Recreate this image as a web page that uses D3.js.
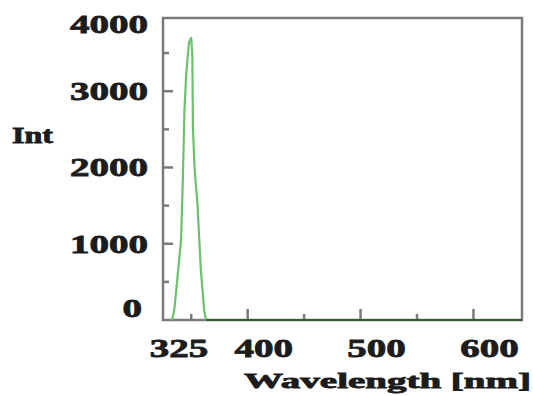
<!DOCTYPE html>
<html>
<head>
<meta charset="utf-8">
<script src="https://cdn.jsdelivr.net/npm/d3@7"></script>
<style>
  body { margin: 0; background: #fff; }
  svg { display: block; }
</style>
</head>
<body>
<svg id="chart"></svg>
<script>
// spectrum
const wavelength = [333, 335, 341, 342.5, 344, 345.5, 348, 350, 351, 351.5, 353, 355.5, 358.5, 361.5, 363, 400, 450, 500, 550, 600, 643];
const intensity  = [0, 130, 1050, 1800, 2750, 3210, 3640, 3700, 3470, 2530, 1970, 1530, 660, 130, 0, 0, 0, 0, 0, 0, 0];

const xTickValues = [350, 400, 450, 500, 550, 600];
const xMajor = [400, 500, 600];
const xLabelValues = [325, 400, 500, 600];
const xLabels = ["325", "400", "500", "600"];
const yTickValues = [500, 1000, 1500, 2000, 2500, 3000, 3500];
const yMajor = [1000, 2000, 3000];
const yLabelValues = [0, 1000, 2000, 3000, 4000];
const yLabels = ["0", "1000", "2000", "3000", "4000"];

const width = 533, height = 396;
const plotLeft = 163, plotRight = 522, plotTop = 18, plotBottom = 320;
const font = "'Liberation Serif', 'Times New Roman', serif";
const frameColor = "#7a7a7a";
const textColor = "#1c1c1c";

const svg = d3.select("#chart")
  .attr("width", width)
  .attr("height", height)
  .attr("viewBox", [0, 0, width, height]);

const x = d3.scaleLinear([325, 643], [plotLeft, plotRight]);
const y = d3.scaleLinear([0, 3960], [plotBottom, plotTop]);

const data = wavelength.map((w, i) => ({w: w, v: intensity[i]}));

// frame
svg.append("rect")
  .attr("x", plotLeft).attr("y", plotTop)
  .attr("width", plotRight - plotLeft).attr("height", plotBottom - plotTop)
  .attr("fill", "none")
  .attr("stroke", frameColor)
  .attr("stroke-width", 2.5);

// ticks pointing inward
svg.append("g")
  .selectAll("line")
  .data(xTickValues)
  .join("line")
  .attr("x1", d => x(d)).attr("x2", d => x(d))
  .attr("y1", plotBottom)
  .attr("y2", d => plotBottom - (xMajor.includes(d) ? 11 : 6))
  .attr("stroke", frameColor)
  .attr("stroke-width", 2.5);

svg.append("g")
  .selectAll("line")
  .data(yTickValues)
  .join("line")
  .attr("y1", d => y(d)).attr("y2", d => y(d))
  .attr("x1", plotLeft)
  .attr("x2", d => plotLeft + (yMajor.includes(d) ? 10 : 6))
  .attr("stroke", frameColor)
  .attr("stroke-width", 2.5);

// spectrum
svg.append("path")
  .datum(data)
  .attr("fill", "none")
  .attr("stroke", "#6cc16c")
  .attr("stroke-width", 2.2)
  .attr("stroke-linejoin", "round")
  .attr("d", d3.line()
    .x(d => x(d.w))
    .y(d => y(d.v)));

// baseline looks darker where it sits on the frame
svg.append("line")
  .attr("x1", x(363)).attr("x2", plotRight)
  .attr("y1", y(0)).attr("y2", y(0))
  .attr("stroke", "#2f5f2f")
  .attr("stroke-width", 2.2);

// tick labels (stretched bold serif as in the picture)
const charW = 19.5;

function styleText(sel, size) {
  sel.attr("lengthAdjust", "spacingAndGlyphs")
    .attr("font-family", font)
    .attr("font-weight", "bold")
    .attr("font-size", size)
    .attr("fill", textColor)
    .attr("stroke", textColor)
    .attr("stroke-width", 0.8);
}

svg.append("g")
  .selectAll("text")
  .data(xLabelValues)
  .join("text")
  .attr("x", (d, i) => x(d) + 16 - xLabels[i].length * charW / 2)
  .attr("y", 357)
  .attr("textLength", (d, i) => xLabels[i].length * charW)
  .call(styleText, 26)
  .text((d, i) => xLabels[i]);

svg.append("g")
  .selectAll("text")
  .data(yLabelValues)
  .join("text")
  .attr("x", (d, i) => (d === 0 ? 142 : 148) - yLabels[i].length * charW)
  .attr("y", d => Math.min(Math.max(y(d) + 9, 33), 317))
  .attr("textLength", (d, i) => yLabels[i].length * charW)
  .call(styleText, 26)
  .text((d, i) => yLabels[i]);

// axis titles
svg.append("text")
  .attr("x", 12).attr("y", 143)
  .attr("textLength", 41)
  .call(styleText, 23)
  .text("Int");

svg.append("text")
  .attr("x", 244).attr("y", 388)
  .attr("textLength", 287)
  .call(styleText, 21)
  .text("Wavelength [nm]");
</script>
</body>
</html>
